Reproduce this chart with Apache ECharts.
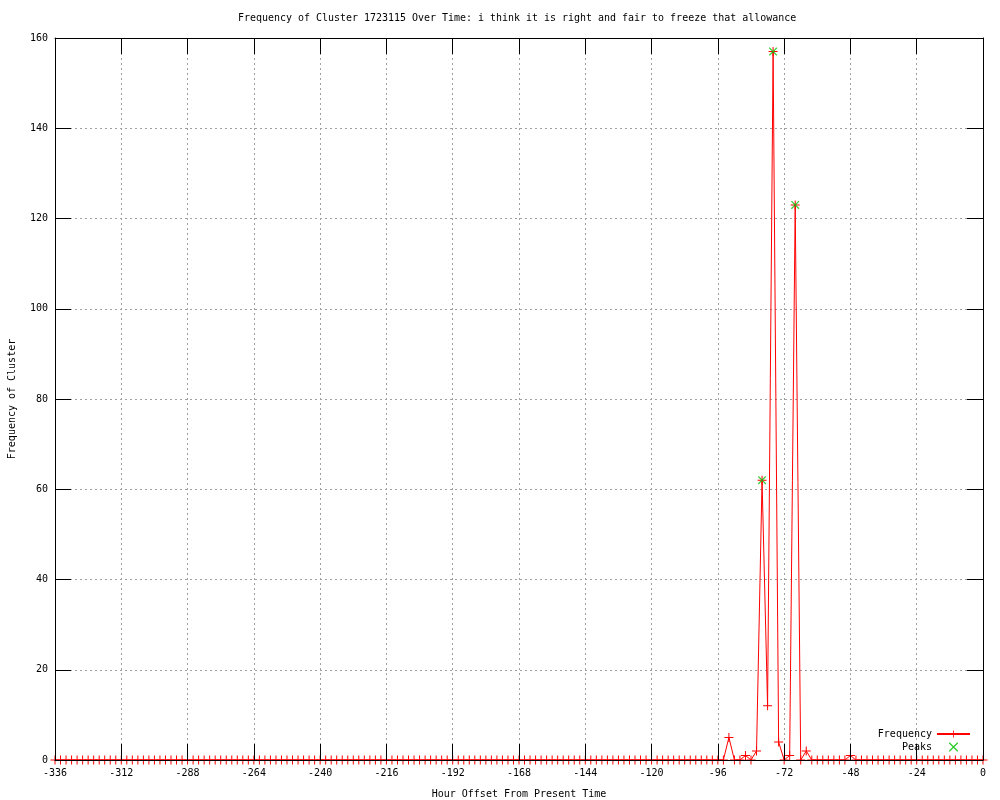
<!DOCTYPE html>
<html><head><meta charset="utf-8">
<script src="https://cdn.jsdelivr.net/npm/echarts@6/dist/echarts.min.js"></script>
<style>html,body{margin:0;padding:0;background:#fff;overflow:hidden}#c{width:1000px;height:800px}</style>
</head><body><div id="c"></div>
<script>
const titleText = 'Frequency of Cluster 1723115 Over Time: i think it is right and fair to freeze that allowance';
const xName = 'Hour Offset From Present Time';
const yName = 'Frequency of Cluster';
const xMin = -336, xMax = 0, xStep = 24;
const yMin = 0, yMax = 160, yStep = 20;
// hour offsets of the samples (every 2 hours from -336 to 0)
const hours = [];
for (let h = -336; h <= 0; h += 2) hours.push(h);
const frequency = [
  0,0,0,0,0,0,0,0,0,0,0,0,
  0,0,0,0,0,0,0,0,0,0,0,0,
  0,0,0,0,0,0,0,0,0,0,0,0,
  0,0,0,0,0,0,0,0,0,0,0,0,
  0,0,0,0,0,0,0,0,0,0,0,0,
  0,0,0,0,0,0,0,0,0,0,0,0,
  0,0,0,0,0,0,0,0,0,0,0,0,
  0,0,0,0,0,0,0,0,0,0,0,0,
  0,0,0,0,0,0,0,0,0,0,0,0,
  0,0,0,0,0,0,0,0,0,0,0,0,
  0,0,5,0,0,1,0,2,62,12,157,4,
  0,1,123,0,2,0,0,0,0,0,0,0,
  1,0,0,0,0,0,0,0,0,0,0,0,0,0,0,0,0,0,0,0,0,0,0,0,0
];
const peakHours = [-76, -68, -80];
const peakValues = [157, 123, 62];

const FONT = 'DejaVu Sans Mono';
const plusPath = 'path://M4,0H5V9H4ZM0,4H9V5H0Z';
const xPath = 'path://M0,0L1,0L4.5,3.5L8,0L9,0L9,1L5.5,4.5L9,8L9,9L8,9L4.5,5.5L1,9L0,9L0,8L3.5,4.5L0,1Z';

// fit title font so the title spans ~559px like the reference
const mctx = document.createElement('canvas').getContext('2d');
mctx.font = '10px "DejaVu Sans Mono"';
const titleSize = 10 * 559 / mctx.measureText(titleText).width;

function borderAxis(pos) {
  const isY = pos === 'left' || pos === 'right';
  return {
    type: 'value', position: pos,
    min: isY ? yMin : xMin, max: isY ? yMax : xMax, interval: isY ? yStep : xStep,
    axisLine: { show: true, onZero: false, lineStyle: { color: '#000', width: 1 } },
    axisTick: { show: true, inside: true, length: 16, lineStyle: { color: '#000', width: 1 } },
    axisLabel: { show: false }, splitLine: { show: false }, z: 5
  };
}

const chart = echarts.init(document.getElementById('c'), null, { renderer: 'canvas', width: 1000, height: 800 });
chart.setOption({
  animation: false,
  backgroundColor: '#fff',
  title: {
    text: titleText, left: 238, top: 13, padding: 0,
    textStyle: { fontFamily: FONT, fontSize: titleSize, fontWeight: 'normal', color: '#000' }
  },
  grid: { left: 55, right: 17, top: 38, bottom: 40, containLabel: false, outerBoundsMode: 'none' },
  legend: {
    orient: 'vertical', right: 29, top: 729, align: 'right', padding: 0,
    itemWidth: 33, itemHeight: 9, itemGap: 3, selectedMode: false,
    textStyle: { fontFamily: FONT, fontSize: 10, color: '#000' },
    data: ['Frequency', 'Peaks']
  },
  xAxis: [
    {
      type: 'value', position: 'bottom', min: xMin, max: xMax, interval: xStep,
      axisLine: { show: false }, axisTick: { show: false },
      axisLabel: { fontFamily: FONT, fontSize: 10, color: '#000', margin: 8 },
      splitLine: { show: true, lineStyle: { color: '#a0a0a0', width: 1, type: [2, 3] } },
      name: xName, nameLocation: 'middle', nameGap: 29,
      nameTextStyle: { fontFamily: FONT, fontSize: 10, color: '#000' }
    },
    borderAxis('bottom'),
    borderAxis('top')
  ],
  yAxis: [
    {
      type: 'value', position: 'left', min: yMin, max: yMax, interval: yStep,
      axisLine: { show: false }, axisTick: { show: false },
      axisLabel: { fontFamily: FONT, fontSize: 10, color: '#000', margin: 7 },
      splitLine: { show: true, lineStyle: { color: '#a0a0a0', width: 1, type: [2, 3] } },
      name: yName, nameLocation: 'middle', nameGap: 38, nameRotate: 90,
      nameTextStyle: { fontFamily: FONT, fontSize: 10, color: '#000' }
    },
    borderAxis('left'),
    borderAxis('right')
  ],
  series: [
    {
      name: 'Frequency', type: 'line', xAxisIndex: 0, yAxisIndex: 0,
      data: hours.map((h, i) => [h, frequency[i]]),
      symbol: plusPath, symbolSize: 9, showSymbol: true, showAllSymbol: true,
      lineStyle: { color: '#ff0000', width: 1 },
      itemStyle: { color: '#ff0000' },
      emphasis: { disabled: true }, z: 2
    },
    {
      name: 'Peaks', type: 'scatter', xAxisIndex: 0, yAxisIndex: 0,
      data: peakHours.map((h, i) => [h, peakValues[i]]),
      symbol: xPath, symbolSize: 8,
      itemStyle: { color: '#00c000' },
      emphasis: { disabled: true }, z: 3
    }
  ]
});
</script></body></html>
